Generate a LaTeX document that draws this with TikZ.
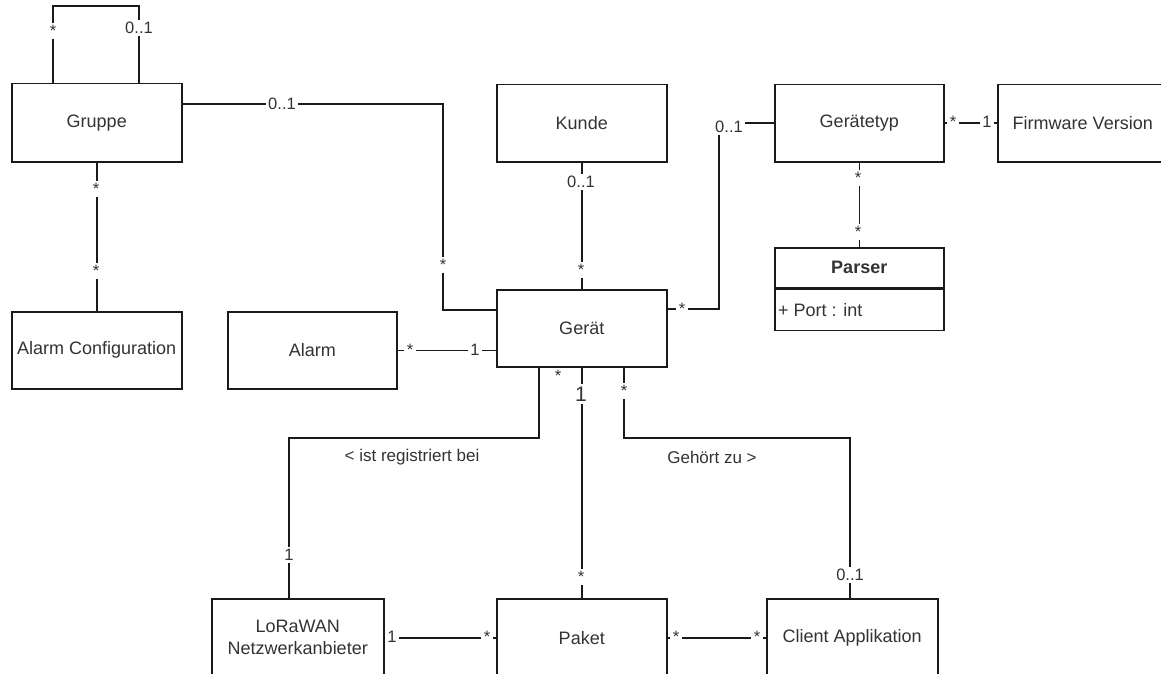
\documentclass[tikz,border=0pt]{standalone}
\usepackage{fontspec}
\setmainfont{Liberation Sans}
\definecolor{ink}{HTML}{333333}
\definecolor{edgecol}{HTML}{1A1A1A}
\begin{document}
\begin{tikzpicture}[x=1pt,y=-1pt,
  box/.style={draw=edgecol,line width=1.5pt,fill=white,anchor=north west,
    inner sep=0pt,align=center,text=ink,font=\fontsize{18}{21}\selectfont},
  conn/.style={draw=edgecol,line width=1.5pt},
  mult/.style={fill=white,inner sep=2.5pt,text=ink,font=\fontsize{16.5}{19}\selectfont},
  assoc/.style={inner sep=0pt,text=ink,font=\fontsize{17}{20}\selectfont}]
\clip (0,0) rectangle (1161,674);
\useasboundingbox (0,0) rectangle (1161,674);

% classes
\node[box,minimum width=170pt,minimum height=78pt] (gruppe) at (11,83) {Gruppe};
\node[box,minimum width=170pt,minimum height=77pt] (kunde) at (496,84) {Kunde};
\node[box,minimum width=169pt,minimum height=77pt] (typ) at (774,84) {Gerätetyp};
\node[box,minimum width=170pt,minimum height=77pt] (fw) at (997,84) {Firmware Version};
\node[box,minimum width=169pt,minimum height=40pt] (parser) at (774,247) {\bfseries Parser};
\node[box,minimum width=169pt,minimum height=41pt] (parserbody) at (parser.south west) {};
\node[anchor=west,inner sep=0pt,text=ink,font=\fontsize{18}{21}\selectfont] (port)
  at ([xshift=4pt]parserbody.west) {+ Port : int};
\node[box,minimum width=170pt,minimum height=77pt] (alarmcfg) at (11,311) {Alarm Configuration};
\node[box,minimum width=169pt,minimum height=77pt] (alarm) at (227,311) {Alarm};
\node[box,minimum width=170pt,minimum height=77pt] (gerat) at (496,289) {Gerät};
\node[box,minimum width=172pt,minimum height=78pt] (lora) at (211,598) {LoRaWAN\\[1pt]Netzwerkanbieter};
\node[box,minimum width=170pt,minimum height=78pt] (paket) at (496,598) {Paket};
\node[box,minimum width=171pt,minimum height=78pt] (client) at (766,598) {Client Applikation};

% associations
\draw[conn] (53,0 |- gruppe.north) -- (53,6) -- (139,6) -- (139,0 |- gruppe.north);
\draw[conn] (gruppe.east |- 0,104) -- (443,104) -- (443,310) -- (gerat.west |- 0,310);
\draw[conn] (kunde.south) -- (gerat.north);
\draw[conn] (gerat.east |- 0,309) -- (719,309) -- (719,0 |- typ.west) -- (typ.west);
\draw[conn] (typ.east) -- (fw.west);
\draw[conn] (typ.south) -- (parser.north);
\draw[conn] (gruppe.south) -- (alarmcfg.north);
\draw[conn] (alarm.east) -- (gerat.west |- alarm.east);
\draw[conn] (539,0 |- gerat.south) -- (539,438) -- (289,438) -- (289,0 |- lora.north);
\draw[conn] (gerat.south) -- (paket.north);
\draw[conn] (624,0 |- gerat.south) -- (624,438) -- (850,438) -- (850,0 |- client.north);
\draw[conn] (lora.east) -- (paket.west);
\draw[conn] (paket.east) -- (client.west);

% multiplicities
\node[mult] (m1) at (53,31) {*};
\node[mult] (m2) at (139,28) {0..1};
\node[mult] (m3) at (282,104) {0..1};
\node[mult] (m4) at (443,265) {*};
\node[mult] (m5) at (581,182) {0..1};
\node[mult] (m6) at (581,270) {*};
\node[mult] (m7) at (682,309) {*};
\node[mult] (m8) at (729,127) {0..1};
\node[mult] (m9) at (953,122) {*};
\node[mult] (m10) at (987,122) {1};
\node[mult] (m11) at (858,178) {*};
\node[mult] (m12) at (858,232) {*};
\node[mult] (m13) at (96,189) {*};
\node[mult] (m14) at (96,271) {*};
\node[mult] (m15) at (410,350) {*};
\node[mult] (m16) at (475,350) {1};
\node[mult] (m17) at (558,376) {*};
\node[mult] (m18) at (289,555) {1};
\node[mult,font=\fontsize{21}{24}\selectfont] (m19) at (581,394) {1};
\node[mult] (m20) at (581,577) {*};
\node[mult] (m21) at (624,391) {*};
\node[mult] (m22) at (850,575) {0..1};
\node[mult] (m23) at (392,637) {1};
\node[mult] (m24) at (487,637) {*};
\node[mult] (m25) at (676,637) {*};
\node[mult] (m26) at (757,637) {*};

% association names
\node[assoc] (reg) at (412,457) {< ist registriert bei};
\node[assoc] (geh) at (712,457) {Gehört zu >};
\end{tikzpicture}
\end{document}
